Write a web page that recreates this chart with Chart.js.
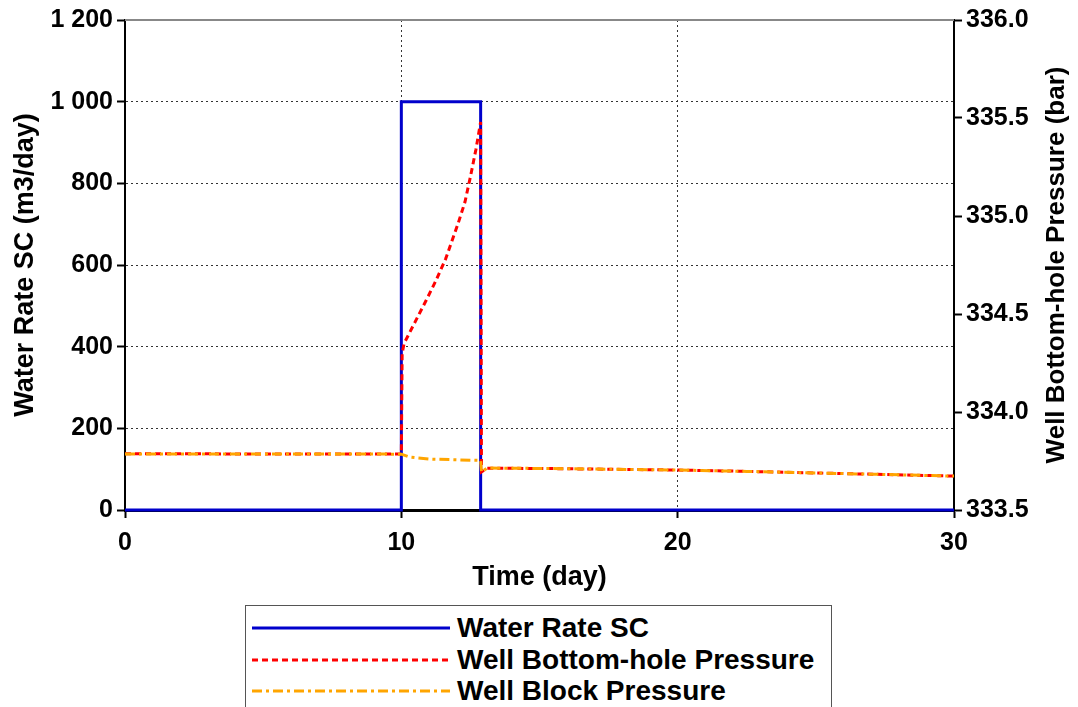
<!DOCTYPE html>
<html>
<head>
<meta charset="utf-8">
<script src="https://cdn.jsdelivr.net/npm/chart.js@4/dist/chart.umd.min.js"></script>
<style>
  html, body { margin: 0; padding: 0; background: #fff; overflow: hidden; }
  #wrap { position: absolute; left: 0; top: 0; width: 1078px; height: 600px; }
  #legend {
    position: absolute; left: 245px; top: 605px; width: 587px; height: 120px;
    border: 1px solid #555; box-sizing: border-box; background: #fff;
    font: bold 28px "Liberation Sans", Arial, sans-serif; color: #000;
  }
  .row { position: absolute; left: 0; height: 32px; width: 100%; }
  .row svg { position: absolute; left: 4px; top: 0; }
  .row span { position: absolute; left: 211px; top: 0; line-height: 32px; white-space: nowrap; }
</style>
</head>
<body>
<div id="wrap"><canvas id="wellChart"></canvas></div>
<div id="legend"></div>
<script>
// time axis (day)
const timeTicks = [0, 10, 20, 30];

// water injection rate, m3/day
const rateTime  = [0, 10, 10, 12.87, 12.87, 30];
const rateValue = [0, 0, 1000, 1000, 0, 0];

// bottom-hole pressure, bar
const bhpTime  = [0, 2, 4, 6, 8, 10, 10.03, 10.1, 10.5, 10.9, 11.25, 11.6, 11.85, 12.05, 12.3, 12.5, 12.7, 12.87, 12.9, 13.1, 15, 17.5, 20, 22.5, 25, 27.5, 30];
const bhpValue = [333.787, 333.787, 333.786, 333.786, 333.786, 333.786, 334.3, 334.35, 334.46, 334.57, 334.67, 334.78, 334.88, 334.96, 335.07, 335.2, 335.34, 335.48, 333.694, 333.713, 333.712, 333.708, 333.704, 333.697, 333.689, 333.681, 333.673];

// block pressure, bar
const blockTime  = [0, 5, 10, 10.3, 11, 12, 12.87, 12.9, 13.1, 15, 17.5, 20, 22.5, 25, 27.5, 30];
const blockValue = [333.786, 333.786, 333.785, 333.77, 333.76, 333.756, 333.753, 333.694, 333.714, 333.712, 333.708, 333.704, 333.697, 333.689, 333.681, 333.673];

const rateTicks = [0, 200, 400, 600, 800, 1000, 1200];
const pressTicks = [333.5, 334.0, 334.5, 335.0, 335.5, 336.0];

const BLUE = "#0000cc", RED = "#ff0000", ORANGE = "#ffa500";
const tickFont = { family: "'Liberation Sans', Arial, sans-serif", size: 25, weight: "bold" };
const titleFont = { family: "'Liberation Sans', Arial, sans-serif", size: 27, weight: "bold" };

const pairs = (xs, ys) => xs.map((x, i) => ({ x: x, y: ys[i] }));

const series = [
  { label: "Water Rate SC", data: pairs(rateTime, rateValue), color: BLUE, dash: [], axis: "y", order: 3 },
  { label: "Well Bottom-hole Pressure", data: pairs(bhpTime, bhpValue), color: RED, dash: [6, 4], axis: "y1", order: 2 },
  { label: "Well Block Pressure", data: pairs(blockTime, blockValue), color: ORANGE, dash: [10, 4, 3, 4], axis: "y1", order: 1 }
];

// frame top line + right axis title (reads bottom to top like the left one)
const extras = {
  id: "extras",
  afterDatasetsDraw(chart) {
    const { ctx, chartArea } = chart;
    ctx.save();
    ctx.strokeStyle = "#888";
    ctx.lineWidth = 2;
    ctx.beginPath();
    ctx.moveTo(chartArea.left, chartArea.top);
    ctx.lineTo(chartArea.right, chartArea.top);
    ctx.stroke();
    ctx.restore();
  },
  afterDraw(chart) {
    const { ctx, chartArea } = chart;
    ctx.save();
    ctx.translate(1057, (chartArea.top + chartArea.bottom) / 2);
    ctx.rotate(-Math.PI / 2);
    ctx.font = "bold 26px 'Liberation Sans', Arial, sans-serif";
    ctx.fillStyle = "#000";
    ctx.textAlign = "center";
    ctx.textBaseline = "middle";
    ctx.fillText("Well Bottom-hole Pressure (bar)", 0, 0);
    ctx.restore();
  }
};

const config = {
  type: "line",
  data: {
    datasets: series.map(s => ({
      label: s.label,
      data: s.data,
      borderColor: s.color,
      borderWidth: 3,
      borderDash: s.dash,
      pointRadius: 0,
      tension: 0,
      fill: false,
      yAxisID: s.axis,
      order: s.order,
      clip: 4
    }))
  },
  options: {
    responsive: true,
    maintainAspectRatio: false,
    animation: false,
    events: [],
    layout: { padding: { top: 20, left: 0, right: 0, bottom: 0 } },
    plugins: { legend: { display: false }, tooltip: { enabled: false } },
    scales: {
      x: {
        type: "linear",
        min: 0, max: 30,
        afterBuildTicks: s => { s.ticks = timeTicks.map(v => ({ value: v })); },
        afterFit: s => { s.height = 90; },
        ticks: { font: tickFont, color: "#000", padding: 10, maxRotation: 0 },
        grid: {
          color: c => (c.tick && (c.tick.value === 0 || c.tick.value === 30)) ? "rgba(0,0,0,0)" : "#333",
          lineWidth: 1,
          tickColor: "#000",
          tickWidth: 2,
          tickLength: 8
        },
        border: { display: true, color: "#000", width: 3, dash: [2, 3] },
        title: { display: true, text: "Time (day)", font: titleFont, color: "#000", padding: { top: 0, bottom: 6 } }
      },
      y: {
        position: "left",
        min: 0, max: 1200,
        afterBuildTicks: s => { s.ticks = rateTicks.map(v => ({ value: v })); },
        afterFit: s => { s.width = 125; },
        ticks: {
          font: tickFont, color: "#000", padding: 4,
          callback: v => v >= 1000 ? Math.floor(v / 1000) + " " + String(v % 1000).padStart(3, "0") : String(v)
        },
        grid: {
          color: c => (c.tick && (c.tick.value === 0 || c.tick.value === 1200)) ? "rgba(0,0,0,0)" : "#333",
          lineWidth: 1,
          tickColor: "#000",
          tickWidth: 2,
          tickLength: 8
        },
        border: { display: true, color: "#000", width: 2, dash: [2, 3] },
        title: { display: true, text: "Water Rate SC (m3/day)", font: titleFont, color: "#000", padding: { top: 9, bottom: 0 } }
      },
      y1: {
        position: "right",
        min: 333.5, max: 336,
        afterBuildTicks: s => { s.ticks = pressTicks.map(v => ({ value: v })); },
        afterFit: s => { s.width = 124; },
        ticks: { font: tickFont, color: "#000", padding: 4, callback: v => Number(v).toFixed(1) },
        grid: { drawOnChartArea: false, tickColor: "#000", tickWidth: 2, tickLength: 8 },
        border: { display: true, color: "#000", width: 2 }
      }
    }
  },
  plugins: [extras]
};

new Chart(document.getElementById("wellChart").getContext("2d"), config);

// legend box under the chart
const legend = document.getElementById("legend");
series.forEach((s, i) => {
  const row = document.createElement("div");
  row.className = "row";
  row.style.top = (6 + i * 31.5) + "px";
  const dash = s.dash.length ? ` stroke-dasharray="${s.dash.join(",")}"` : "";
  row.innerHTML =
    `<svg width="200" height="32"><line x1="2" y1="16" x2="200" y2="16" stroke="${s.color}" stroke-width="3"${dash}/></svg>` +
    `<span>${s.label}</span>`;
  legend.appendChild(row);
});
</script>
</body>
</html>
